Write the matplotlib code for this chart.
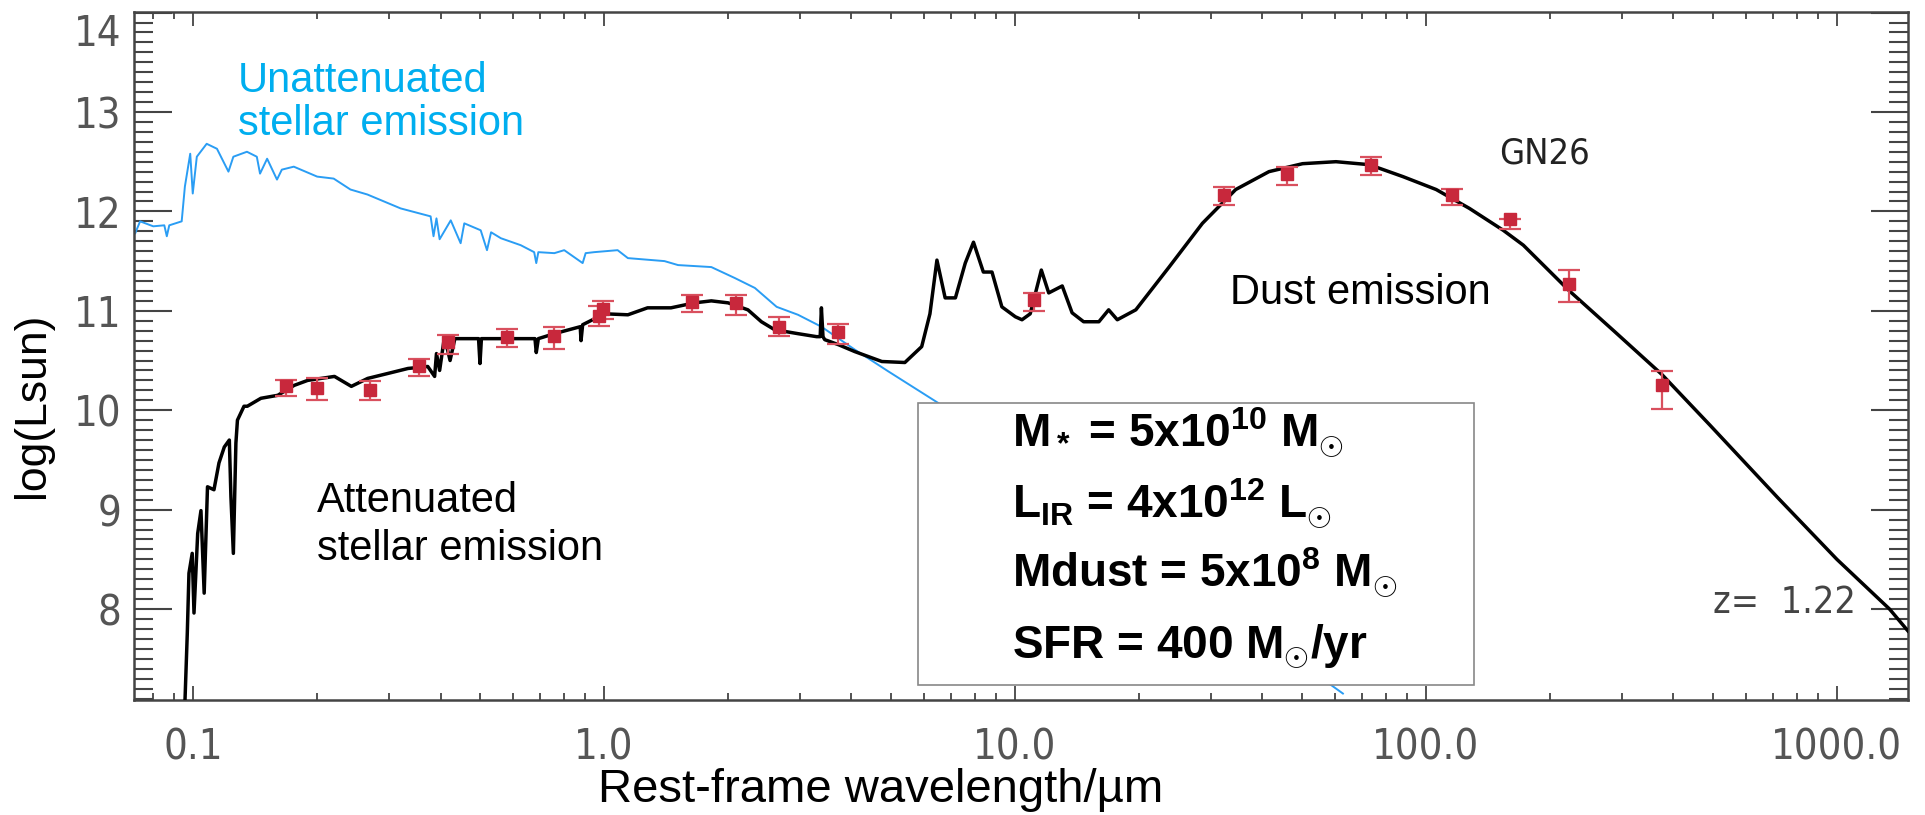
import numpy as np
import matplotlib
matplotlib.use('Agg')
import matplotlib.pyplot as plt
from matplotlib import font_manager
from matplotlib.patches import Rectangle
from matplotlib.ticker import LogLocator, MultipleLocator, NullFormatter

# Best-fit SED model (attenuated stars + dust), wavelength in micron, log(L/Lsun)
model_wave = [0.0955, 0.0968, 0.0977, 0.0995, 0.1005, 0.1026, 0.1045, 0.1064, 0.1084, 0.1124,
              0.1156, 0.1191, 0.1225, 0.1236, 0.1253, 0.1271, 0.1282, 0.133, 0.1355, 0.1462,
              0.1607, 0.1762, 0.190, 0.2208, 0.2427, 0.266, 0.2979, 0.3334, 0.3724, 0.387,
              0.391, 0.398, 0.409, 0.422, 0.4335, 0.495, 0.499, 0.503, 0.562, 0.679,
              0.684, 0.692, 0.757, 0.875, 0.879, 0.887, 1.002, 1.143, 1.276, 1.455,
              1.660, 1.824, 2.004, 2.239, 2.415, 2.600, 2.965, 3.289, 3.357, 3.38,
              3.41, 3.443, 3.715, 4.074, 4.742, 5.395, 5.929, 6.209, 6.457, 6.761,
              7.161, 7.568, 7.925, 8.375, 8.79, 9.29, 10.02, 10.40, 10.89, 11.59,
              12.08, 13.03, 13.77, 14.69, 16.0, 16.9, 17.74, 19.68, 23.71, 28.58,
              34.44, 41.5, 50.1, 60.4, 72.8, 87.9, 105.9, 127.6, 154.2, 172.6,
              223.4, 288.0, 375.0, 491.0, 718.0, 1000.0, 1343.0, 1489.0]
model_lum = [7.05, 7.76, 8.36, 8.56, 7.96, 8.76, 8.99, 8.16, 9.23, 9.20,
             9.47, 9.63, 9.70, 9.13, 8.56, 9.67, 9.90, 10.04, 10.04, 10.12,
             10.15, 10.25, 10.30, 10.34, 10.24, 10.32, 10.37, 10.42, 10.44, 10.34,
             10.57, 10.40, 10.74, 10.50, 10.72, 10.72, 10.47, 10.72, 10.72, 10.72,
             10.58, 10.72, 10.77, 10.84, 10.70, 10.86, 10.97, 10.96, 11.03, 11.03,
             11.08, 11.10, 11.08, 11.01, 10.89, 10.81, 10.77, 10.74, 10.74, 11.03,
             10.74, 10.71, 10.66, 10.59, 10.49, 10.48, 10.64, 10.97, 11.51, 11.13,
             11.13, 11.48, 11.69, 11.39, 11.39, 11.04, 10.94, 10.91, 10.97, 11.41,
             11.18, 11.25, 10.98, 10.89, 10.89, 11.01, 10.91, 11.01, 11.44, 11.88,
             12.22, 12.40, 12.48, 12.50, 12.47, 12.35, 12.22, 12.03, 11.81, 11.66,
             11.20, 10.79, 10.36, 9.85, 9.12, 8.50, 8.00, 7.78]

# Intrinsic (unattenuated) stellar spectrum
star_wave = [0.0723, 0.0743, 0.080, 0.0851, 0.0863, 0.0875, 0.0938, 0.0955, 0.0984, 0.0998,
             0.1021, 0.1079, 0.1143, 0.1219, 0.1253, 0.1352, 0.1429, 0.1455, 0.1514, 0.160,
             0.1644, 0.1758, 0.2004, 0.2198, 0.2415, 0.2655, 0.3199, 0.3784, 0.3846, 0.391,
             0.398, 0.4236, 0.4477, 0.457, 0.501, 0.519, 0.531, 0.561, 0.627, 0.676,
             0.684, 0.692, 0.757, 0.80, 0.887, 0.902, 0.946, 1.079, 1.143, 1.403,
             1.514, 1.824, 2.080, 2.328, 2.630, 2.965, 3.38, 4.074, 4.92, 6.52, 62.8]
star_lum = [11.78, 11.90, 11.85, 11.86, 11.75, 11.86, 11.90, 12.25, 12.58, 12.18,
            12.55, 12.68, 12.63, 12.40, 12.55, 12.60, 12.55, 12.38, 12.53, 12.32,
            12.42, 12.45, 12.35, 12.33, 12.22, 12.17, 12.03, 11.95, 11.75, 11.93,
            11.72, 11.91, 11.68, 11.88, 11.81, 11.61, 11.79, 11.73, 11.66, 11.59,
            11.48, 11.59, 11.58, 11.61, 11.48, 11.58, 11.59, 11.61, 11.53, 11.50,
            11.46, 11.44, 11.33, 11.23, 11.04, 10.96, 10.84, 10.61, 10.39, 10.07, 7.15]

# Observed photometry
phot_wave = [0.168, 0.200, 0.270, 0.354, 0.417, 0.582, 0.757, 0.97, 0.993, 1.64,
             2.10, 2.66, 3.70, 11.1, 32.3, 45.9, 73.6, 115.9, 160.0, 223.0, 375.0]
phot_lum = [10.24, 10.22, 10.20, 10.44, 10.69, 10.74, 10.75, 10.95, 11.02, 11.09,
            11.08, 10.84, 10.79, 11.11, 12.165, 12.38, 12.47, 12.165, 11.92, 11.27, 10.25]
phot_err_lo = [0.10, 0.12, 0.10, 0.10, 0.12, 0.10, 0.13, 0.10, 0.10, 0.10,
               0.12, 0.09, 0.12, 0.11, 0.10, 0.11, 0.10, 0.10, 0.10, 0.18, 0.24]
phot_err_hi = [0.06, 0.10, 0.09, 0.08, 0.07, 0.08, 0.09, 0.10, 0.08, 0.07,
               0.08, 0.10, 0.08, 0.07, 0.085, 0.07, 0.08, 0.065, 0.0, 0.14, 0.14]

xtick_vals = [0.1, 1.0, 10.0, 100.0, 1000.0]
xtick_labels = ['0.1', '1.0', '10.0', '100.0', '1000.0']
ytick_vals = [8, 9, 10, 11, 12, 13, 14]
ytick_labels = ['8', '9', '10', '11', '12', '13', '14']

box_lines = [r'M$_*$ = 5x10$^{10}$ M$_{\odot}$',
             r'L$_{IR}$ = 4x10$^{12}$ L$_{\odot}$',
             r'Mdust = 5x10$^{8}$ M$_{\odot}$',
             r'SFR = 400 M$_{\odot}$/yr']

# narrow face for the axis numbers, like the IDL plot font
try:
    font_manager.findfont('Liberation Sans Narrow', fallback_to_default=False)
    num_font = dict(family='Liberation Sans Narrow')
except ValueError:
    num_font = dict(family='DejaVu Sans', stretch='condensed')

plt.rcParams['font.family'] = ['Liberation Sans', 'DejaVu Sans']
plt.rcParams['mathtext.fontset'] = 'custom'
plt.rcParams['mathtext.rm'] = 'Liberation Sans:bold'
plt.rcParams['mathtext.it'] = 'Liberation Sans:bold'
plt.rcParams['mathtext.bf'] = 'Liberation Sans:bold'

fig = plt.figure(figsize=(19.25, 8.15), dpi=100)
ax = fig.add_axes([0.0696, 0.1411, 0.9216, 0.8442])

ax.plot(star_wave, star_lum, color='#2a9df4', lw=1.4, zorder=2)
ax.plot(model_wave, model_lum, color='black', lw=2.5, zorder=3)
ax.errorbar(phot_wave, phot_lum, yerr=[phot_err_lo, phot_err_hi], fmt='s', color='#c8283c',
            ms=8, ecolor='#d9505e', elinewidth=1.6, capsize=8, capthick=1.6, zorder=4)

ax.set_xscale('log')
ax.set_xlim(0.0718, 1490)
ax.set_ylim(7.085, 14.006)

ax.set_xticks(xtick_vals, xtick_labels)
ax.xaxis.set_minor_locator(LogLocator(base=10, subs=np.arange(2, 10)))
ax.xaxis.set_minor_formatter(NullFormatter())
ax.set_yticks(ytick_vals, ytick_labels)
ax.yaxis.set_minor_locator(MultipleLocator(0.1))

ax.tick_params(axis='y', which='major', direction='in', length=27, width=1.5,
               left=True, right=True, color='#444444', labelcolor='#555555', pad=9)
ax.tick_params(axis='y', which='minor', direction='in', length=14, width=1.5,
               left=True, right=True, color='#444444')
ax.tick_params(axis='x', which='major', direction='in', length=10, width=1.3,
               top=True, bottom=True, color='#444444', labelcolor='#555555', pad=19)
ax.tick_params(axis='x', which='minor', direction='in', length=5, width=1.3,
               top=True, bottom=True, color='#444444')
for lab in ax.get_xticklabels() + ax.get_yticklabels():
    lab.set_fontproperties(font_manager.FontProperties(size=30, **num_font))
ax.get_yticklabels()[-1].set_va('top')

for side in ['left', 'right', 'top', 'bottom']:
    ax.spines[side].set_color('#444444')
    ax.spines[side].set_linewidth(1.8)

fig.text(0.4577, 0.016, 'Rest-frame wavelength/\u00b5m', fontsize=34, ha='center', va='baseline')
fig.text(0.0171, 0.503, 'log(Lsun)', fontsize=32, rotation=90, ha='center', va='center')

# curve labels
ax.text(0.0586, 0.8837, 'Unattenuated', color='#00aeef', fontsize=30, transform=ax.transAxes, va='baseline')
ax.text(0.0586, 0.8212, 'stellar emission', color='#00aeef', fontsize=30, transform=ax.transAxes, va='baseline')
ax.text(0.1031, 0.2733, 'Attenuated', color='black', fontsize=30, transform=ax.transAxes, va='baseline')
ax.text(0.1031, 0.2035, 'stellar emission', color='black', fontsize=30, transform=ax.transAxes, va='baseline')
ax.text(0.6178, 0.5756, 'Dust emission', color='black', fontsize=30, transform=ax.transAxes, va='baseline')

ax.text(0.7695, 0.7805, 'GN26', color='#222222', fontsize=26, transform=ax.transAxes,
        va='baseline', **num_font)
ax.text(0.890, 0.1265, 'z=  1.22', color='#444444', fontsize=27, transform=ax.transAxes,
        va='baseline', **num_font)

# summary of fitted properties
ax.add_patch(Rectangle((0.4419, 0.0218), 0.3135, 0.4099, transform=ax.transAxes,
                       facecolor='white', edgecolor='#888888', lw=1.2, zorder=5))
for line, yb in zip(box_lines, [0.3677, 0.2645, 0.1642, 0.0610]):
    ax.text(0.4949, yb, line, fontsize=33, fontweight='bold', transform=ax.transAxes,
            va='baseline', zorder=6)

plt.savefig('out.png', dpi=100)
